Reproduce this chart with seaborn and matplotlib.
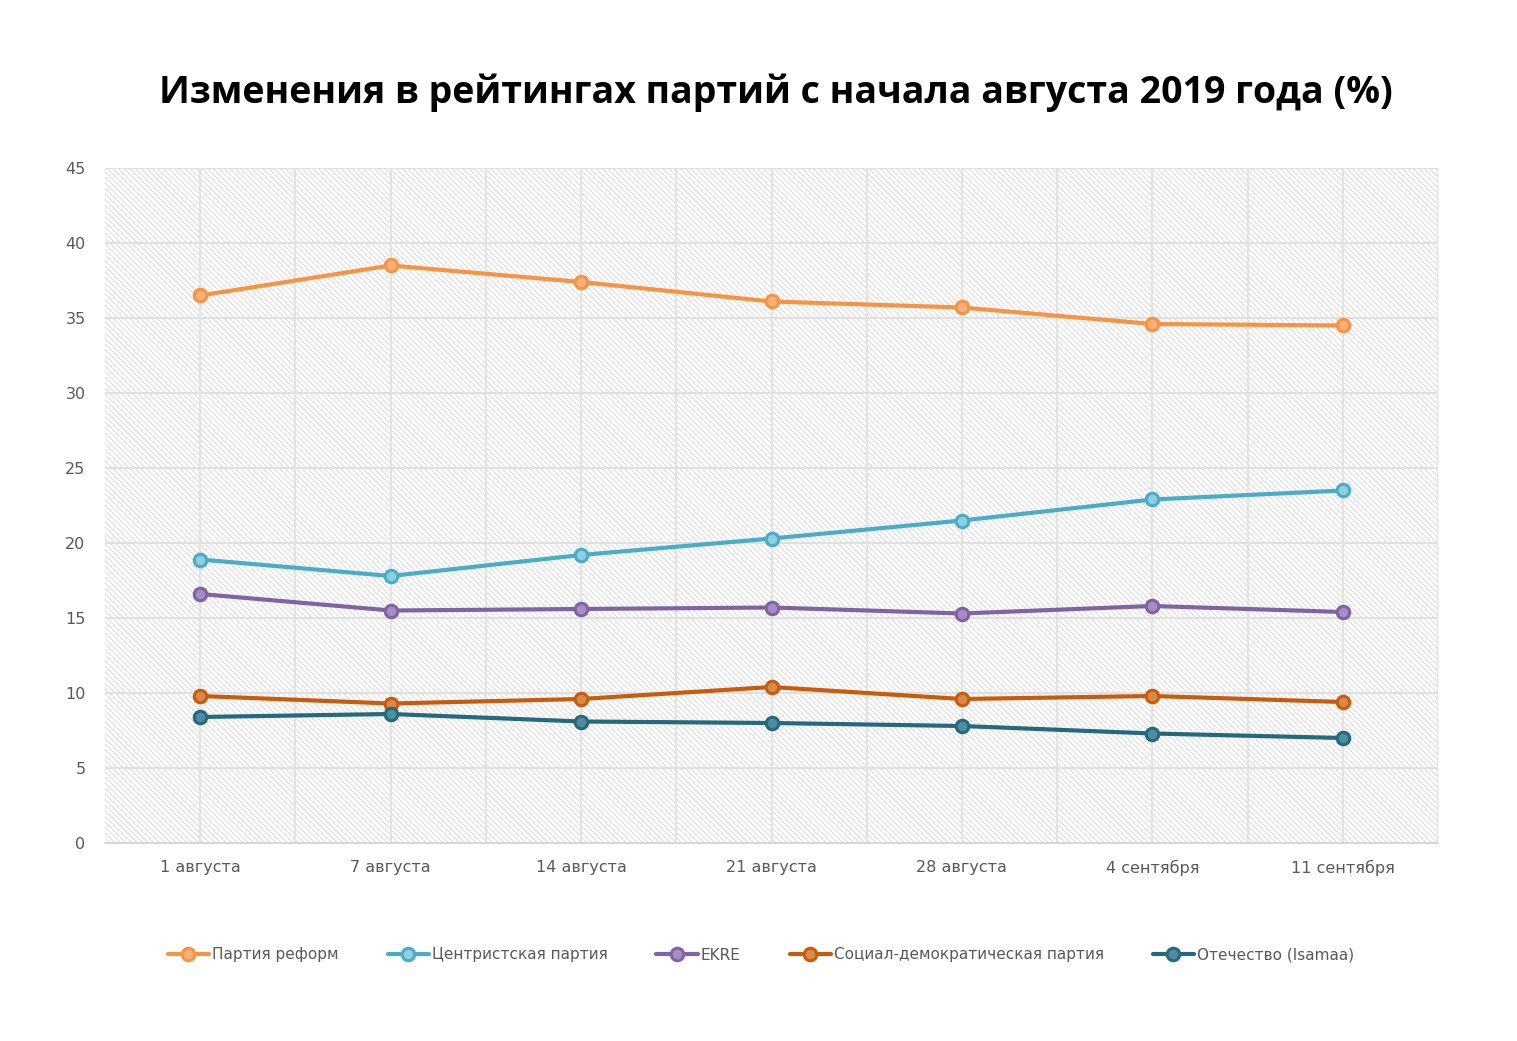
import matplotlib
matplotlib.use("Agg")
import matplotlib.pyplot as plt
import seaborn as sns
import pandas as pd
from matplotlib.patches import Rectangle

dates = ["1 августа", "7 августа", "14 августа", "21 августа", "28 августа", "4 сентября", "11 сентября"]
reform = [36.5, 38.5, 37.4, 36.1, 35.7, 34.6, 34.5]
center = [18.9, 17.8, 19.2, 20.3, 21.5, 22.9, 23.5]
ekre = [16.6, 15.5, 15.6, 15.7, 15.3, 15.8, 15.4]
sde = [9.8, 9.3, 9.6, 10.4, 9.6, 9.8, 9.4]
isamaa = [8.4, 8.6, 8.1, 8.0, 7.8, 7.3, 7.0]
parties = ["Партия реформ", "Центристская партия", "EKRE", "Социал-демократическая партия", "Отечество (Isamaa)"]
series = [reform, center, ekre, sde, isamaa]
colors = ["#F79443", "#4AADC8", "#8063A5", "#C95B0C", "#24697E"]
faces = ["#F7B07A", "#8FCFE0", "#A88CC6", "#D9894A", "#4F8EA0"]

rows = []
for p, vals in zip(parties, series):
    for i, (d, v) in enumerate(zip(dates, vals)):
        rows.append({"party": p, "idx": i, "date": d, "value": v})
df = pd.DataFrame(rows)

sns.set_theme(style="white")
plt.rcParams['font.family'] = ['DejaVu Sans']
plt.rcParams['hatch.linewidth'] = 0.6

fig = plt.figure(figsize=(15.17, 10.41), dpi=100)
ax = fig.add_axes([105/1517, 1 - 843/1041, (1438-105)/1517, (843-168)/1041])

ax.add_patch(Rectangle((0, 0), 1, 1, transform=ax.transAxes, facecolor="white",
                       edgecolor="#d6d6d6", linewidth=0, hatch="\\\\\\\\\\\\", zorder=0))

for i in range(7):
    ax.axvline(i, color="#e3e3e3", lw=1.4, zorder=1)
    ax.axvline(i + 0.5, color="#e3e3e3", lw=1.4, zorder=1)
for yv in range(5, 50, 5):
    ax.axhline(yv, color="#e0e0e0", lw=1.4, zorder=1)

for p, c, fc in zip(parties, colors, faces):
    sub = df[df["party"] == p]
    sns.lineplot(data=sub, x="idx", y="value", ax=ax, color=c, lw=3, marker="o",
                 markersize=11, markerfacecolor=fc, markeredgecolor=c, markeredgewidth=2.2,
                 label=p, zorder=3)

ax.set_xlim(-0.5, 6.5)
ax.set_ylim(0, 45)
ax.set_yticks(range(0, 50, 5))
ax.set_xticks(range(7))
ax.set_xticklabels(dates)
ax.tick_params(axis="both", labelsize=11.5, colors="#595959", length=0)
ax.tick_params(axis="x", pad=12)
ax.tick_params(axis="y", pad=14)
ax.set_xlabel("")
ax.set_ylabel("")
for s in ["top", "right", "left"]:
    ax.spines[s].set_visible(False)
ax.spines["bottom"].set_color("#d0d0d0")
ax.spines["bottom"].set_linewidth(1.2)

handles, labels = ax.get_legend_handles_labels()
for h in handles:
    h.set_markersize(9)
ax.legend_.remove()
fig.legend(handles, labels, loc="center", bbox_to_anchor=(761/1517, 1 - 955/1041), ncol=5,
           frameon=False, fontsize=11, labelcolor="#595959", handlelength=2.7,
           columnspacing=3.2, handletextpad=0.2)

fig.text(776/1517, 1 - 93/1041, "Изменения в рейтингах партий с начала августа 2019 года (%)",
         ha="center", va="center", fontsize=27, fontweight="bold", color="black",
         family=["Open Sans", "DejaVu Sans"])

fig.savefig("out.png", dpi=100, facecolor="white")
